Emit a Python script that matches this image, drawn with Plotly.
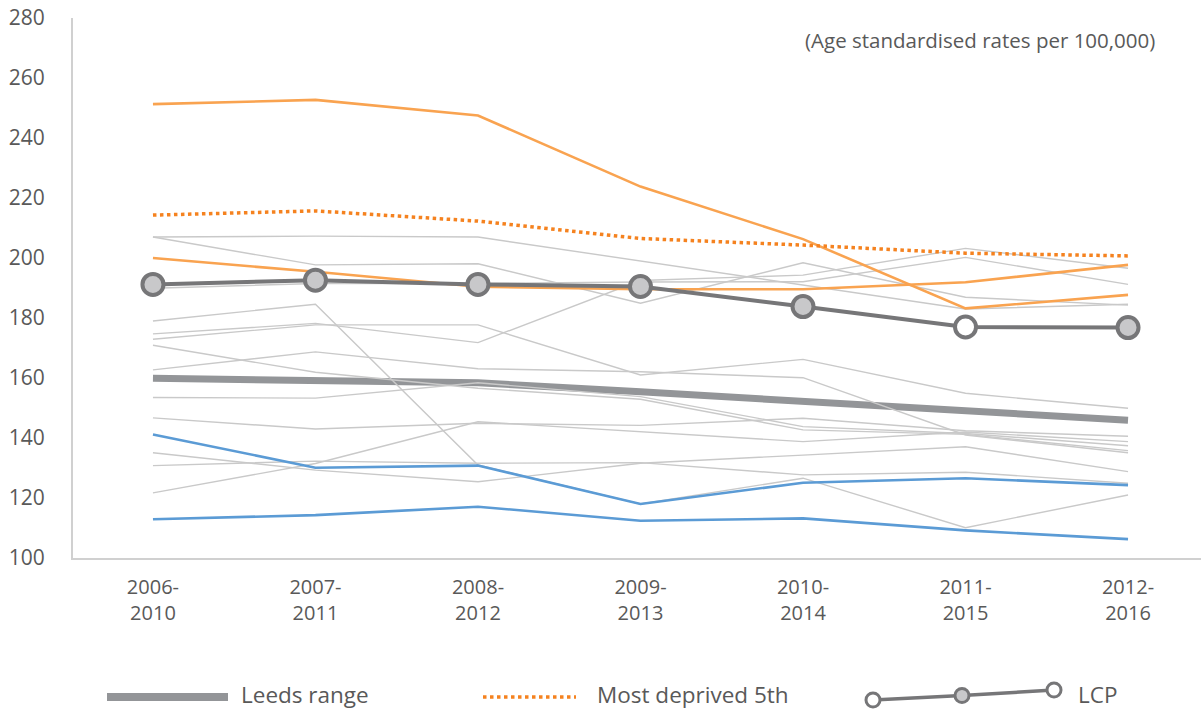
import plotly.graph_objects as go

# Rolling five-year periods
periods = ["2006-<br>2010", "2007-<br>2011", "2008-<br>2012", "2009-<br>2013",
           "2010-<br>2014", "2011-<br>2015", "2012-<br>2016"]
xpos = list(range(len(periods)))

# Individual local areas (light grey background lines)
area_01 = [207.0, 207.3, 207.0, 199.0, 191.0, 183.0, 184.6]
area_02 = [207.0, 197.7, 198.1, 184.9, 198.4, 186.9, 184.3]
area_03 = [189.9, 191.5, 191.5, 192.0, 192.1, 200.2, 191.2]
area_04 = [179.0, 184.6, 131.0, 118.0, 126.6, 110.1, 121.0]
area_05 = [174.7, 178.2, 171.8, 192.5, 194.3, 203.2, 196.6]
area_06 = [172.9, 177.7, 177.7, 161.0, 166.2, 154.9, 149.9]
area_07 = [170.9, 161.9, 156.6, 152.9, 142.7, 141.2, 135.8]
area_08 = [162.7, 168.7, 163.1, 162.1, 160.1, 141.0, 135.1]
area_09 = [153.5, 153.3, 158.4, 153.8, 143.8, 141.5, 137.4]
area_10 = [146.7, 143.0, 144.9, 144.2, 146.6, 142.4, 140.6]
area_11 = [135.1, 129.3, 125.4, 131.6, 134.3, 137.1, 128.8]
area_12 = [130.8, 132.3, 131.6, 131.8, 127.7, 128.6, 124.9]
area_13 = [121.7, 131.5, 145.4, 142.0, 138.8, 142.0, 138.8]
grey_areas = [area_01, area_02, area_03, area_04, area_05, area_06, area_07,
              area_08, area_09, area_10, area_11, area_12, area_13]

# Highest (orange) and lowest (blue) areas
high_a = [251.3, 252.7, 247.5, 223.8, 206.3, 183.2, 187.7]
high_b = [200.0, 195.4, 190.4, 189.6, 189.6, 191.9, 197.7]
low_a = [141.2, 130.1, 130.8, 118.0, 125.1, 126.6, 124.3]
low_b = [112.9, 114.3, 117.1, 112.4, 113.2, 109.2, 106.3]

# Summary series
leeds_range = [159.9, 159.3, 158.4, 155.4, 152.1, 149.3, 145.9]
most_deprived = [214.3, 215.7, 212.3, 206.5, 204.3, 201.6, 200.7]
lcp = [191.2, 192.6, 191.2, 190.5, 183.8, 177.0, 176.8]
lcp_fill = ["#c8c8ca", "#c8c8ca", "#c8c8ca", "#c8c8ca", "#c8c8ca", "#ffffff", "#c8c8ca"]

y_ticks = [100, 120, 140, 160, 180, 200, 220, 240, 260, 280]

FONT = "Open Sans"
TXT = "#595959"
GREY_LINE = "#c9c9c9"
ORANGE = "#f9a350"
DOT_ORANGE = "#f5821f"
BLUE = "#5b9bd5"
LEEDS = "#939598"
LCP_LINE = "#767678"

fig = go.Figure()

fig.add_trace(go.Scatter(x=xpos, y=leeds_range, mode="lines",
                         line=dict(color=LEEDS, width=7), showlegend=False,
                         name="Leeds range"))
for s in grey_areas:
    fig.add_trace(go.Scatter(x=xpos, y=s, mode="lines",
                             line=dict(color=GREY_LINE, width=1.4),
                             showlegend=False, hoverinfo="skip"))
for s in (low_a, low_b):
    fig.add_trace(go.Scatter(x=xpos, y=s, mode="lines",
                             line=dict(color=BLUE, width=2.6), showlegend=False))
for s in (high_a, high_b):
    fig.add_trace(go.Scatter(x=xpos, y=s, mode="lines",
                             line=dict(color=ORANGE, width=2.6), showlegend=False))
fig.add_trace(go.Scatter(x=xpos, y=most_deprived, mode="lines",
                         line=dict(color=DOT_ORANGE, width=3.5, dash="dot"),
                         showlegend=False, name="Most deprived 5th"))
fig.add_trace(go.Scatter(x=xpos, y=lcp, mode="lines+markers",
                         line=dict(color=LCP_LINE, width=4),
                         marker=dict(size=21, color=lcp_fill,
                                     line=dict(color=LCP_LINE, width=4)),
                         showlegend=False, name="LCP"))

# Bottom key, drawn in paper coordinates below the plot area
PL, PW, PT, PH = 73, 1128, 18, 540


def px(xp):
    return (xp - PL) / PW


def py(yp):
    return (PT + PH - yp) / PH


shapes = [
    dict(type="line", xref="paper", yref="paper", x0=px(107), x1=px(228),
         y0=py(697), y1=py(697), line=dict(color=LEEDS, width=8)),
    dict(type="line", xref="paper", yref="paper", x0=px(483), x1=px(576),
         y0=py(697), y1=py(697), line=dict(color=DOT_ORANGE, width=3.5, dash="dot")),
    dict(type="line", xref="paper", yref="paper", x0=px(873), x1=px(962),
         y0=py(700), y1=py(695.5), line=dict(color=LCP_LINE, width=3.5)),
    dict(type="line", xref="paper", yref="paper", x0=px(962), x1=px(1054),
         y0=py(695.5), y1=py(690), line=dict(color=LCP_LINE, width=3.5)),
]
for cx, cy, fill in ((873, 700, "#ffffff"), (962, 695.5, "#c8c8ca"), (1054, 690, "#ffffff")):
    shapes.append(dict(type="circle", xref="paper", yref="paper",
                       x0=px(cx - 7), x1=px(cx + 7), y0=py(cy + 7), y1=py(cy - 7),
                       fillcolor=fill, line=dict(color=LCP_LINE, width=3)))

annotations = [
    dict(text="(Age standardised rates per 100,000)", xref="paper", yref="paper",
         x=px(1157), y=py(40), xanchor="right", yanchor="middle", showarrow=False,
         font=dict(family=FONT, size=20.5, color=TXT)),
    dict(text="Leeds range", xref="paper", yref="paper", x=px(239), y=py(694),
         xanchor="left", yanchor="middle", showarrow=False,
         font=dict(family=FONT, size=22.5, color=TXT)),
    dict(text="Most deprived 5th", xref="paper", yref="paper", x=px(595), y=py(694),
         xanchor="left", yanchor="middle", showarrow=False,
         font=dict(family=FONT, size=22.5, color=TXT)),
    dict(text="LCP", xref="paper", yref="paper", x=px(1076), y=py(694),
         xanchor="left", yanchor="middle", showarrow=False,
         font=dict(family=FONT, size=22.5, color=TXT)),
]

fig.update_layout(
    width=1201, height=709,
    margin=dict(l=PL, r=0, t=PT, b=709 - PT - PH, pad=0),
    paper_bgcolor="white", plot_bgcolor="white",
    font=dict(family=FONT, color=TXT),
    shapes=shapes, annotations=annotations,
    xaxis=dict(range=[-0.492, 6.449], tickmode="array", tickvals=xpos,
               ticktext=periods, showgrid=False, zeroline=False, showline=True,
               linecolor="#d0d0d0", linewidth=2, ticks="",
               tickfont=dict(family=FONT, size=20, color=TXT), ticklabelstandoff=10),
    yaxis=dict(range=[100, 280], tickmode="array", tickvals=y_ticks,
               showgrid=False, zeroline=False, showline=True,
               linecolor="#d0d0d0", linewidth=2, ticks="",
               tickfont=dict(family=FONT, size=21, color=TXT), ticklabelstandoff=22),
)

fig.write_html("out.html")
